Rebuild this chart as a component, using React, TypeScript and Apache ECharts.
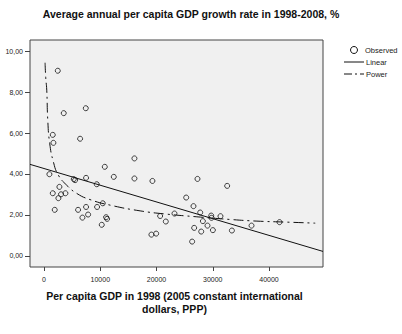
import React, { useEffect, useRef } from "react";
import * as echarts from "echarts";

const title = "Average annual per capita GDP growth rate in 1998-2008, %";
const xAxisTitle = "Per capita GDP in 1998 (2005 constant international\ndollars, PPP)";
const legendNames = ["Observed", "Linear", "Power"];
const xTicks = [0, 10000, 20000, 30000, 40000];
const yTicks = [0, 2, 4, 6, 8, 10];

const obsGdp = [
  2440, 3500, 7420, 1550, 1660, 6410, 950, 5280, 5520, 7470, 9370, 10800, 12400, 16070, 16070, 19270,
  1550, 2730, 3020, 3800, 2550, 1900, 6050, 7470, 7830, 6820, 9430, 10440, 10260, 11030, 11210,
  19090, 19930, 20640, 21650, 23190, 25270, 26570, 26330, 26690, 27280, 27760, 27940,
  32560, 28240, 29060, 29720, 29770, 30020, 31370, 33400, 36890, 41870,
];
const obsGrowth = [
  9.04, 6.97, 7.21, 5.91, 5.52, 5.72, 3.99, 3.75, 3.70, 3.81, 3.50, 4.35, 3.86, 4.76, 3.78, 3.66,
  3.06, 3.37, 3.01, 3.06, 2.82, 2.25, 2.25, 2.39, 2.02, 1.87, 2.39, 2.57, 1.52, 1.89, 1.81,
  1.04, 1.09, 1.95, 1.68, 2.07, 2.85, 2.43, 0.70, 1.37, 3.76, 2.12, 1.19,
  3.42, 1.70, 1.48, 1.97, 1.86, 1.26, 1.94, 1.24, 1.48, 1.65,
];

const linearGdp = [-2500, 49600];
const linearGrowth = [4.47, 0.22];

const powerGdp = [180, 300, 480, 660, 1000, 1660, 2550, 4040, 5820, 8180, 11740, 17080, 21830, 27170, 33100, 37850, 43190, 48220];
const powerGrowth = [9.43, 8.7, 8.09, 6.63, 5.5, 4.59, 3.94, 3.45, 3.05, 2.75, 2.48, 2.2, 2.04, 1.91, 1.78, 1.7, 1.65, 1.6];

const fmtY = (v: number) => v.toFixed(2).replace(".", ",");

export default function App() {
  const ref = useRef<HTMLDivElement>(null);
  useEffect(() => {
    if (!ref.current) return;
    document.body.style.margin = "0";
    const chart = echarts.init(ref.current, undefined, { renderer: "svg" });
    const font = "Arial, 'Liberation Sans', sans-serif";
    const legendText = (i: number, x: number, y: number) => ({
      type: "text",
      x,
      y,
      z: 100,
      style: { text: legendNames[i], fontSize: 7.5, fill: "#222222", textFill: "#222222", verticalAlign: "middle", fontFamily: font },
    });
    chart.setOption({
      animation: false,
      textStyle: { fontFamily: font },
      title: {
        text: title,
        left: 186,
        textAlign: "center",
        top: 3,
        textStyle: { fontSize: 10.5, fontWeight: "bold", color: "#111", fontFamily: font },
      },
      grid: { left: 30, right: 79, top: 40, bottom: 67, show: true, backgroundColor: "#f0f0f0", borderColor: "#444", borderWidth: 1 },
      xAxis: {
        type: "value",
        min: -2500,
        max: 49600,
        name: xAxisTitle,
        nameLocation: "middle",
        nameGap: 22,
        nameTextStyle: { fontSize: 10.5, fontWeight: "bold", color: "#111", lineHeight: 13, fontFamily: font, padding: [0, 0, 0, -4] },
        axisLine: { show: false, onZero: false },
        splitLine: { show: false },
        axisTick: { show: true, customValues: xTicks, length: 4, lineStyle: { color: "#444" } },
        axisLabel: { customValues: xTicks, fontSize: 7, color: "#222", margin: 9, formatter: (v: number) => String(v) },
      },
      yAxis: {
        type: "value",
        min: -0.54,
        max: 10.54,
        axisLine: { show: false, onZero: false },
        splitLine: { show: false },
        axisTick: { show: true, customValues: yTicks, length: 5, lineStyle: { color: "#444" } },
        axisLabel: { customValues: yTicks, fontSize: 7, color: "#222", margin: 7, formatter: (v: number) => fmtY(v) },
      },
      series: [
        {
          name: "Observed",
          type: "scatter",
          data: obsGdp.map((x, i) => [x, obsGrowth[i]]),
          symbol: "circle",
          symbolSize: 5,
          itemStyle: { color: "transparent", borderColor: "#111", borderWidth: 1 },
        },
        {
          name: "Linear",
          type: "line",
          data: linearGdp.map((x, i) => [x, linearGrowth[i]]),
          showSymbol: false,
          symbol: "none",
          lineStyle: { color: "#111", width: 1 },
        },
        {
          name: "Power",
          type: "line",
          smooth: true,
          data: powerGdp.map((x, i) => [x, powerGrowth[i]]),
          showSymbol: false,
          symbol: "none",
          lineStyle: { color: "#111", width: 1, type: [10, 4, 2, 4] },
        },
      ],
      graphic: [
        { type: "circle", shape: { cx: 354, cy: 50, r: 3.5 }, style: { fill: "none", stroke: "#111", lineWidth: 1 } },
        { type: "line", shape: { x1: 344, y1: 62, x2: 364, y2: 62 }, style: { stroke: "#111", lineWidth: 1 } },
        { type: "line", shape: { x1: 344, y1: 74, x2: 364, y2: 74 }, style: { stroke: "#111", lineWidth: 1, lineDash: [8, 3, 2, 3] } },
        legendText(0, 365, 50),
        legendText(1, 366, 62),
        legendText(2, 366, 74),
      ],
    });
    return () => chart.dispose();
  }, []);
  return <div ref={ref} style={{ width: 402, height: 334 }} />;
}
